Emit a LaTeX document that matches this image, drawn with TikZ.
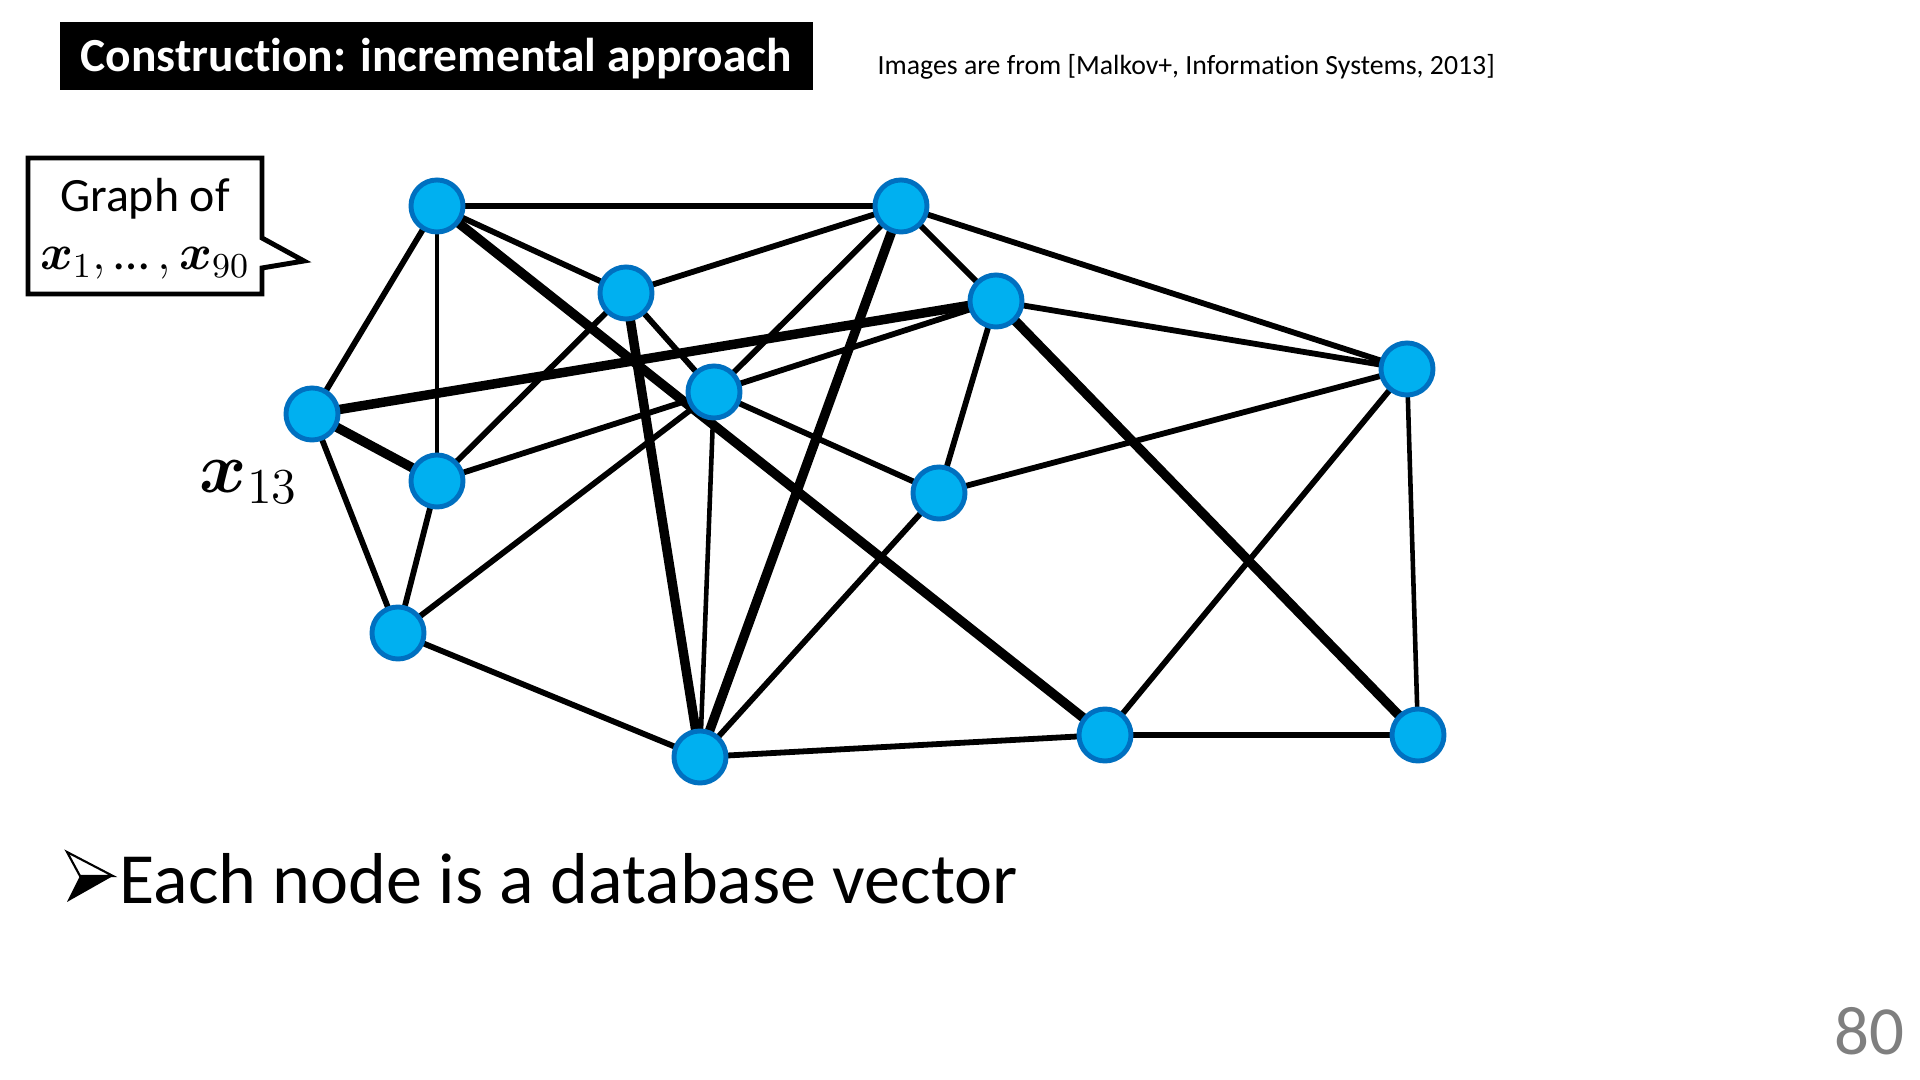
\RequirePackage{fix-cm}
\documentclass[tikz,border=0pt]{standalone}
\usepackage{fontspec}
\setmainfont{Carlito}[Ligatures=NoCommon]
\usepackage{amsmath}
\usepackage{bm}
\usetikzlibrary{backgrounds}
\pgfdeclarelayer{pagefill}
\pgfsetlayers{pagefill,background,main}
\definecolor{nodefill}{HTML}{00B0F0}
\definecolor{nodeline}{HTML}{0070C0}
\definecolor{pagegray}{HTML}{7F7F7F}
\begin{document}
\begin{tikzpicture}[x=0.01cm,y=-0.01cm,
  vtx/.style={circle,fill=nodefill,draw=nodeline,line width=1.4pt,minimum size=0.52cm,inner sep=0pt},
  ed/.style={line width=1.65pt},
  edthick/.style={line width=2.7pt},
  edthin/.style={line width=1.3pt},
  txt/.style={inner sep=0pt}]
\begin{pgfonlayer}{pagefill}
\path[use as bounding box, fill=white] (0,0) rectangle (1920,1080);
\end{pgfonlayer}

% title
\node[fill=black, minimum width=7.53cm, minimum height=0.68cm, inner sep=0pt] (titlebox) at (436.5,56) {};
\node[txt, anchor=base, text=white, font=\bfseries\fontsize{13.5}{16}\selectfont] (titletext) at (436.5,72) {Construction: incremental approach};
\node[txt, anchor=base west, font=\fontsize{7.9}{9.5}\selectfont] (cite) at (877,75) {Images are from [Malkov+, Information Systems, 2013]};

% callout
\draw[line width=1.4pt, fill=white, line join=miter] (28,158) -- (262,158) -- (262,238) -- (304,261) -- (262,268) -- (262,294) -- (28,294) -- cycle;
\node[txt, anchor=base, font=\fontsize{13.6}{16}\selectfont] (graphof) at (145,212) {Graph of};
\node[txt, anchor=base, font=\fontsize{14.2}{16}\selectfont] (graphx) at (145,270) {$\bm{x}_1,\text{…}\,, \bm{x}_{90}$};

% graph nodes
\node[vtx] (A) at (437,206) {};
\node[vtx] (B) at (901,206) {};
\node[vtx] (C) at (626,293) {};
\node[vtx] (D) at (996,301) {};
\node[vtx] (E) at (312,414) {};
\node[vtx] (F) at (714,392) {};
\node[vtx] (G) at (1407,369) {};
\node[vtx] (H) at (437,481) {};
\node[vtx] (I) at (939,493) {};
\node[vtx] (J) at (398,633) {};
\node[vtx] (K) at (700,757) {};
\node[vtx] (L) at (1105,735) {};
\node[vtx] (M) at (1418,735) {};

\begin{scope}[on background layer]
\draw[ed] (A.center) -- (B.center);
\draw[ed] (A.center) -- (C.center);
\draw[ed] (A.center) -- (E.center);
\draw[edthin] (A.center) -- (H.center);
\draw[edthick] (A.center) -- (L.center);
\draw[ed] (B.center) -- (C.center);
\draw[ed] (B.center) -- (D.center);
\draw[ed] (B.center) -- (G.center);
\draw[ed] (B.center) -- (F.center);
\draw[edthick] (B.center) -- (K.center);
\draw[ed] (C.center) -- (F.center);
\draw[ed] (C.center) -- (H.center);
\draw[edthick] (C.center) -- (K.center);
\draw[edthick] (E.center) -- (D.center);
\draw[edthick] (E.center) -- (H.center);
\draw[ed] (E.center) -- (J.center);
\draw[ed] (H.center) -- (J.center);
\draw[ed] (H.center) -- (F.center);
\draw[ed] (J.center) -- (F.center);
\draw[ed] (J.center) -- (K.center);
\draw[ed] (F.center) -- (D.center);
\draw[ed] (F.center) -- (I.center);
\draw[edthin] (F.center) -- (K.center);
\draw[ed] (D.center) -- (G.center);
\draw[ed] (D.center) -- (I.center);
\draw[edthick] (D.center) -- (M.center);
\draw[ed] (G.center) -- (I.center);
\draw[ed] (G.center) -- (L.center);
\draw[edthin] (G.center) -- (M.center);
\draw[ed] (I.center) -- (K.center);
\draw[ed] (K.center) -- (L.center);
\draw[ed] (L.center) -- (M.center);
\end{scope}

\node[txt, anchor=base, font=\fontsize{20.4}{24}\selectfont] (x13) at (249,493) {$\bm{x}_{13}$};

% bullet text
\filldraw[fill=white, line width=0.6pt, line join=miter] (67,852) -- (113,876) -- (80,876) -- cycle;
\fill (80,876) -- (113,876) -- (67,902) -- cycle;
\node[txt, anchor=base west, font=\fontsize{20.5}{24}\selectfont] (bullet) at (119,904) {Each node is a database vector};

\node[txt, anchor=base east, text=pagegray, font=\fontsize{19.6}{24}\selectfont] (pagenum) at (1905,1055) {80};
\end{tikzpicture}
\end{document}
